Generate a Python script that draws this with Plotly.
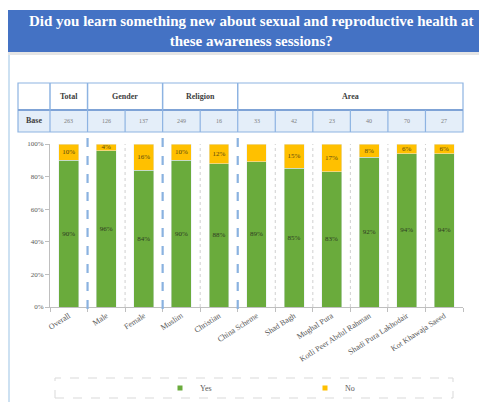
import plotly.graph_objects as go

# ---------------- data ----------------
categories = ["Overall", "Male", "Female", "Muslim", "Christian", "China Scheme",
              "Shad Bagh", "Mughal Pura", "Kotli Peer Abdul Rahman",
              "Shadi Pura Lakhodair", "Kot Khawaja Saeed"]
yes_values = [90, 96, 84, 90, 88, 89, 85, 83, 92, 94, 94]
no_values = [10, 4, 16, 10, 12, 11, 15, 17, 8, 6, 6]
no_label_shown = [True, True, True, True, True, False, True, True, True, True, True]
base_counts = [263, 126, 137, 249, 16, 33, 42, 23, 40, 70, 27]
group_names = ["Total", "Gender", "Religion", "Area"]
group_spans = [(0, 1), (1, 3), (3, 5), (5, 11)]
y_ticks = [0, 20, 40, 60, 80, 100]
title_text = ("<b>Did you learn something new about sexual and reproductive health at"
              "<br>these awareness sessions?</b>")

# ---------------- style ----------------
OFF = 8                      # page body margin offset
PAGE_W, PAGE_H = 487, 402
W, H = PAGE_W - OFF, PAGE_H - OFF
L, R, T, B = 42, 24, 136, 95
PW, PH = W - L - R, H - T - B
N = len(categories)
GREEN = "#6AAB3C"
YELLOW = "#FFC000"
SERIF = "Liberation Serif"
TABLE_LINE = "#8DB3E2"
SEP_BLUE = "#8AB2E0"


def px2x(px):
    # page pixel -> paper x
    return (px - OFF - L) / PW


def px2y(py):
    # page pixel -> paper y
    return (H - B - (py - OFF)) / PH


def bx(k):
    # paper x of the k-th category boundary
    return k / N


fig = go.Figure()
fig.add_trace(go.Bar(
    x=categories, y=yes_values, name="Yes", marker_color=GREEN, showlegend=False,
    text=[f"{v}%" for v in yes_values], textposition="inside",
    insidetextanchor="middle", textfont=dict(size=7, color="#2F3B22", family=SERIF),
))
fig.add_trace(go.Bar(
    x=categories, y=no_values, name="No", marker_color=YELLOW, showlegend=False,
    text=[f"{v}%" if s else "" for v, s in zip(no_values, no_label_shown)],
    textposition="inside", insidetextanchor="middle",
    textfont=dict(size=7, color="#5A4A10", family=SERIF),
))
# legend entries (small square markers)
fig.add_trace(go.Scatter(x=[None], y=[None], mode="markers", name="Yes",
                         marker=dict(symbol="square", size=5, color=GREEN)))
fig.add_trace(go.Scatter(x=[None], y=[None], mode="markers", name="No",
                         marker=dict(symbol="square", size=5, color=YELLOW)))

shapes = []
# title banner + shadow
shapes.append(dict(type="rect", xref="paper", yref="paper", x0=px2x(8), x1=px2x(490),
                   y0=px2y(55), y1=px2y(52), fillcolor="rgba(0,0,0,0.10)", line_width=0))
shapes.append(dict(type="rect", xref="paper", yref="paper", x0=px2x(7), x1=px2x(490),
                   y0=px2y(52), y1=px2y(10), fillcolor="#4472C4", line_width=0))
# left page border
shapes.append(dict(type="line", xref="paper", yref="paper", x0=px2x(9), x1=px2x(9),
                   y0=px2y(402), y1=px2y(55), line=dict(color="#BDD7EE", width=1.5)))

# table
t_top, t_mid, t_bot = px2y(83), px2y(110), px2y(132)
t_left = px2x(18)
shapes.append(dict(type="rect", xref="paper", yref="paper", x0=t_left, x1=bx(N),
                   y0=t_bot, y1=t_mid, fillcolor="#E4EEF9", line_width=0))
shapes.append(dict(type="rect", xref="paper", yref="paper", x0=t_left, x1=bx(N),
                   y0=t_bot, y1=t_top, line=dict(color=TABLE_LINE, width=1.2)))
shapes.append(dict(type="line", xref="paper", yref="paper", x0=t_left, x1=bx(N),
                   y0=t_mid, y1=t_mid, line=dict(color="#7FA3D6", width=2)))
for k in [0, 1, 3, 5]:
    shapes.append(dict(type="line", xref="paper", yref="paper", x0=bx(k), x1=bx(k),
                       y0=t_mid, y1=t_top, line=dict(color=TABLE_LINE, width=1.5)))
for k in range(0, N):
    shapes.append(dict(type="line", xref="paper", yref="paper", x0=bx(k), x1=bx(k),
                       y0=t_bot, y1=t_mid, line=dict(color=TABLE_LINE, width=1.2)))

# separators in the plot
for k in range(1, N):
    if k in (1, 3, 5):
        shapes.append(dict(type="line", xref="paper", yref="paper", x0=bx(k), x1=bx(k),
                           y0=px2y(309), y1=t_bot,
                           line=dict(color=SEP_BLUE, width=2.2, dash="dash")))
    else:
        shapes.append(dict(type="line", xref="paper", yref="paper", x0=bx(k), x1=bx(k),
                           y0=0, y1=1, line=dict(color="#D0D0D0", width=1, dash="dot")))

# legend box
shapes.append(dict(type="rect", xref="paper", yref="paper", x0=px2x(55), x1=px2x(453),
                   y0=px2y(398), y1=px2y(378), line=dict(color="#D9D9D9", width=1, dash="dash")))

annotations = []
annotations.append(dict(text=title_text, xref="paper", yref="paper", x=px2x(251), y=px2y(31),
                        xanchor="center", yanchor="middle", showarrow=False,
                        font=dict(family=SERIF, size=15, color="white")))
for name, (a, b) in zip(group_names, group_spans):
    annotations.append(dict(text=f"<b>{name}</b>", xref="paper", yref="paper",
                            x=(bx(a) + bx(b)) / 2, y=(t_top + t_mid) / 2, showarrow=False,
                            xanchor="center", yanchor="middle",
                            font=dict(family=SERIF, size=8, color="#404040")))
annotations.append(dict(text="<b>Base</b>", xref="paper", yref="paper",
                        x=(t_left + bx(0)) / 2, y=(t_mid + t_bot) / 2, showarrow=False,
                        xanchor="center", yanchor="middle",
                        font=dict(family=SERIF, size=8, color="#404040")))
for i, n in enumerate(base_counts):
    annotations.append(dict(text=str(n), xref="paper", yref="paper",
                            x=(bx(i) + bx(i + 1)) / 2, y=(t_mid + t_bot) / 2, showarrow=False,
                            xanchor="center", yanchor="middle",
                            font=dict(family=SERIF, size=6, color="#808080")))

fig.update_layout(
    width=W, height=H, margin=dict(l=L, r=R, t=T, b=B),
    paper_bgcolor="white", plot_bgcolor="white",
    barmode="stack", bargap=0.47,
    uniformtext=dict(minsize=7, mode="show"),
    font=dict(family=SERIF, color="#595959"),
    shapes=shapes, annotations=annotations,
    legend=dict(orientation="h", xref="container", yref="container",
                x=(160 - OFF) / W, y=(H - (388 - OFF)) / H, xanchor="left", yanchor="middle",
                entrywidth=100, entrywidthmode="pixels", itemwidth=30, traceorder="normal",
                font=dict(family=SERIF, size=8, color="#595959"), bgcolor="rgba(0,0,0,0)"),
    xaxis=dict(type="category", range=[-0.5, N - 0.5], showline=True, linecolor="#BFBFBF",
               ticks="outside", tickson="boundaries", ticklen=4, tickcolor="#BFBFBF",
               tickangle=-33, tickfont=dict(size=8, color="#595959", family=SERIF),
               showgrid=False, automargin=False),
    yaxis=dict(range=[0, 100], tickvals=y_ticks, ticktext=[f"{v}%" for v in y_ticks],
               showline=True, linecolor="#BFBFBF", ticks="outside", ticklen=4,
               tickcolor="#BFBFBF", tickfont=dict(size=7, color="#595959", family=SERIF),
               showgrid=False, zeroline=False, automargin=False),
)

fig.write_html("out.html")
